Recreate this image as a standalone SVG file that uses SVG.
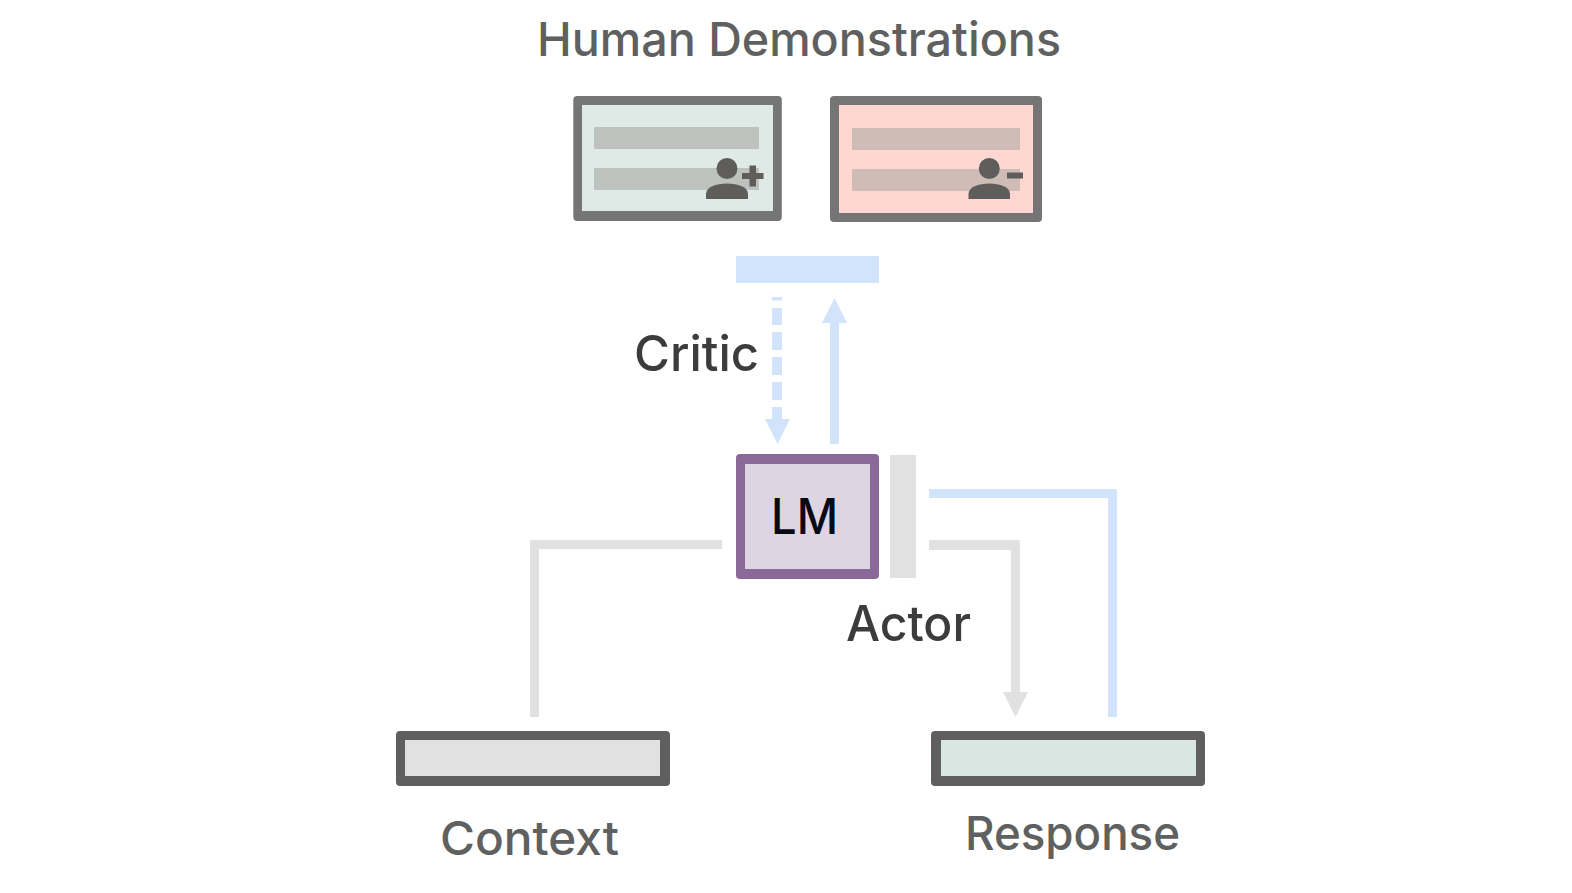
<svg xmlns="http://www.w3.org/2000/svg" width="1572" height="893" viewBox="0 0 1572 893">
<style>
text{font-family:"Inter","Open Sans","Liberation Sans",sans-serif;font-weight:500}
.lg{font-size:47px;fill:#5f6060}
.dk{font-size:49px;fill:#3c3c3c}
.blue{fill:#d2e3fc}
.gray{fill:#e1e1e1}
.card{fill:#757575}
.slot{fill:#5f5f5f}
.p{fill:#5f5d5c}
</style>
<rect width="1572" height="893" fill="#fff"/>
<g id="title"><text class="lg" x="537" y="56" textLength="524" lengthAdjust="spacingAndGlyphs">Human Demonstrations</text></g>
<g id="positive-demo">
<rect class="card" x="573.300" y="96" width="208.500" height="125" rx="4"/>
<rect x="582" y="105" width="191" height="106" fill="#dfeae6"/>
<rect x="594" y="127" width="165" height="22" fill="#bdc2bf"/>
<rect x="594" y="168" width="165" height="22" fill="#bdc2bf"/>
<circle class="p" cx="727" cy="168.500" r="10.500"/>
<path class="p" d="M706 199v-5c0-7 10-10.500 21-10.500s21 3.500 21 10.500v5z"/>
<path class="p" d="M749.500 165.500h6.500v7.500h7.500v6h-7.500v7.500h-6.500v-7.500h-7.500v-6h7.500z"/>
</g>
<g id="negative-demo">
<rect class="card" x="830" y="96" width="212" height="126" rx="4"/>
<rect x="839" y="105" width="194" height="108" fill="#ffd7d2"/>
<rect x="852" y="128" width="168" height="22" fill="#cfbcb7"/>
<rect x="852" y="169" width="168" height="22" fill="#cfbcb7"/>
<circle class="p" cx="989.300" cy="168.500" r="10.500"/>
<path class="p" d="M968.500 199v-5c0-7 10-10.500 20.800-10.500s20.700 3.500 20.700 10.500v5z"/>
<rect class="p" x="1007" y="172.500" width="16" height="6"/>
</g>
<g id="critic-bar"><rect class="blue" x="736" y="256" width="143" height="27"/></g>
<g id="connectors">
<rect class="blue" x="772" y="297" width="10" height="3.500"/>
<rect class="blue" x="772" y="308" width="10" height="17"/>
<rect class="blue" x="772" y="332" width="10" height="18"/>
<rect class="blue" x="772" y="357" width="10" height="18"/>
<rect class="blue" x="772" y="382" width="10" height="18"/>
<path class="blue" d="M772 407h10v12h8l-12.500 25-12.500-25h7z"/>
<path class="blue" d="M830 444V323h-8l12.500-25 12.500 25h-8v121z"/>
<path class="blue" d="M929 489h186q2 0 2 2v226h-9V498H929z"/>
<path class="gray" d="M929 540h89q2 0 2 2v150h8l-12.500 25-12.500-25h8V550h-82z"/>
<path class="gray" d="M722 540H532q-2 0-2 2v175h9V549h183z"/>
</g>
<g id="lm">
<rect x="736" y="454" width="143" height="125" rx="4" fill="#8a6998"/>
<rect x="745" y="464" width="125" height="105" fill="#ddd5e2"/>
<text x="771" y="534" font-size="50" fill="#0a0a14" textLength="67" lengthAdjust="spacingAndGlyphs">LM</text>
</g>
<g id="actor-bar"><rect class="gray" x="890" y="455" width="26" height="123"/></g>
<g id="context">
<rect class="slot" x="396" y="731" width="274" height="55" rx="4"/>
<rect x="405" y="740" width="255" height="36" fill="#e1e1e1"/>
<text class="lg" x="440" y="855" textLength="179" lengthAdjust="spacingAndGlyphs">Context</text>
</g>
<g id="response">
<rect class="slot" x="931" y="731" width="274" height="55" rx="4"/>
<rect x="941" y="740" width="255" height="36" fill="#d9e7e2"/>
<text class="lg" x="965" y="850" textLength="215" lengthAdjust="spacingAndGlyphs">Response</text>
</g>
<g id="critic-label"><text class="dk" x="634" y="371" textLength="125" lengthAdjust="spacingAndGlyphs">Critic</text></g>
<g id="actor-label"><text class="dk" x="846" y="641" textLength="125" lengthAdjust="spacingAndGlyphs">Actor</text></g>
</svg>
